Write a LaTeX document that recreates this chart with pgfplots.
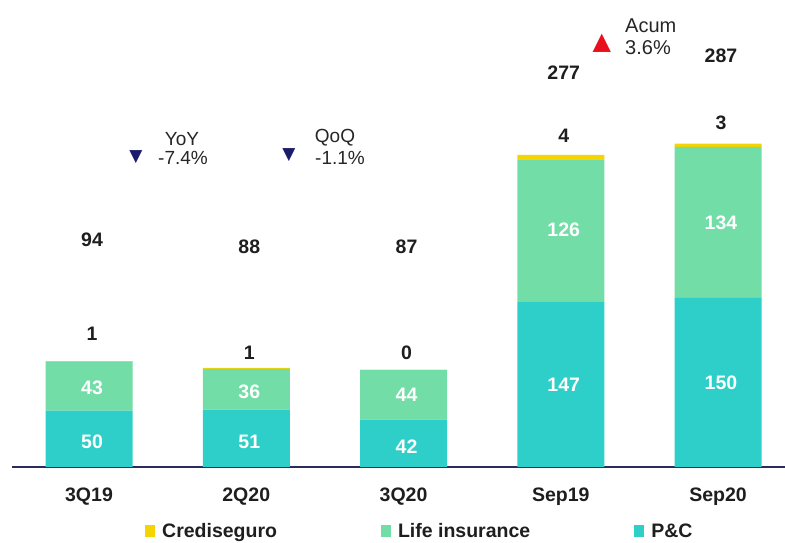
\documentclass[border=0pt]{standalone}
\usepackage{pgfplots}
\pgfplotsset{compat=1.18}
\usepackage{pgfplotstable}
\usepackage{fontspec}
\setmainfont{Liberation Sans}
\newfontfamily\dejavu{DejaVu Sans}
\definecolor{pc}{HTML}{2ECFC8}
\definecolor{life}{HTML}{72DDA6}
\definecolor{cred}{HTML}{F5D400}
\definecolor{axnavy}{HTML}{2B2B5C}
\definecolor{tri}{HTML}{1B1B6B}
\definecolor{redtri}{HTML}{E8101C}
\definecolor{txt}{HTML}{1E1E1E}
\definecolor{ann}{HTML}{262626}
\pgfplotsset{sqlegend/.style={legend image code/.code={\fill[##1] (0pt,-6pt) rectangle (10pt,6pt);}}}
\pgfplotstableread{
x pc life cred
0 50 43 1
1 51 36 1
2 42 44 0.4
3 147 126 4
4 150 134 3
}\mydata
\begin{document}
\begin{tikzpicture}
\path[use as bounding box] (-12pt,-76pt) rectangle (773pt,467pt);
\begin{axis}[
  at={(0pt,0pt)}, anchor=south west,
  scale only axis, width=773pt, height=467pt,
  xmin=-0.4897, xmax=4.426, ymin=0, ymax=414.4,
  clip=false,
  axis x line*=bottom, axis y line=none,
  axis line style={axnavy, line width=1.6pt},
  ybar stacked, bar width=87pt,
  xtick={0,1,2,3,4},
  xticklabels={3Q19,2Q20,3Q20,Sep19,Sep20},
  major tick length=0pt,
  xticklabel style={anchor=center, yshift=-30pt, font=\fontsize{19.5}{21}\selectfont\bfseries, text=txt},
  legend columns=3, reverse legend, sqlegend,
  legend style={draw=none, fill=none, at={(rel axis cs:0,0)}, anchor=west, xshift=133pt, yshift=-64pt,
    font=\fontsize{19.5}{21}\selectfont\bfseries, text=txt,
    /tikz/every odd column/.append style={column sep=5pt},
    /tikz/every even column/.append style={column sep=102pt},
    inner sep=0pt},
]
\addplot[fill=pc, draw=none] table[x=x, y=pc] {\mydata};
\addlegendentry{P\&C}
\addplot[fill=life, draw=none] table[x=x, y=life] {\mydata};
\addlegendentry{Life insurance}
\addplot[fill=cred, draw=none] table[x=x, y=cred] {\mydata};
\addlegendentry{Crediseguro}

\coordinate (wA) at (axis cs:0,22.2);
\coordinate (wB) at (axis cs:0,70.1);
\coordinate (wC) at (axis cs:1,22.0);
\coordinate (wD) at (axis cs:1,66.5);
\coordinate (wE) at (axis cs:2,17.7);
\coordinate (wF) at (axis cs:2,63.9);
\coordinate (wG) at (axis cs:3,72.8);
\coordinate (wH) at (axis cs:3,210.3);
\coordinate (wI) at (axis cs:4,74.5);
\coordinate (wJ) at (axis cs:4,216.5);

\node[text=txt, font=\fontsize{19.5}{21}\selectfont\bfseries, xshift=3pt] at (axis cs:0,118.0) {1};
\node[text=txt, font=\fontsize{19.5}{21}\selectfont\bfseries, xshift=3pt] at (axis cs:1,101.2) {1};
\node[text=txt, font=\fontsize{19.5}{21}\selectfont\bfseries, xshift=3pt] at (axis cs:2,101.2) {0};
\node[text=txt, font=\fontsize{19.5}{21}\selectfont\bfseries, xshift=3pt] at (axis cs:3,293.7) {4};
\node[text=txt, font=\fontsize{19.5}{21}\selectfont\bfseries, xshift=3pt] at (axis cs:4,305.2) {3};
\node[text=txt, font=\fontsize{19.5}{21}\selectfont\bfseries, xshift=3pt] at (axis cs:0,201.4) {94};
\node[text=txt, font=\fontsize{19.5}{21}\selectfont\bfseries, xshift=3pt] at (axis cs:1,195.2) {88};
\node[text=txt, font=\fontsize{19.5}{21}\selectfont\bfseries, xshift=3pt] at (axis cs:2,195.2) {87};
\node[text=txt, font=\fontsize{19.5}{21}\selectfont\bfseries, xshift=3pt] at (axis cs:3,349.6) {277};
\node[text=txt, font=\fontsize{19.5}{21}\selectfont\bfseries, xshift=3pt] at (axis cs:4,364.7) {287};

\node[text=ann, font=\fontsize{19}{21}\selectfont, inner sep=0pt] at (axis cs:0.5914,291.3) {YoY};
\node[text=ann, font=\fontsize{19}{21}\selectfont, inner sep=0pt] at (axis cs:0.5978,274.0) {-7.4\%};
\node[text=ann, font=\fontsize{19}{21}\selectfont, inner sep=0pt] at (axis cs:1.5644,292.0) {QoQ};
\node[text=ann, font=\fontsize{19}{21}\selectfont, inner sep=0pt] at (axis cs:1.5963,274.0) {-1.1\%};
\node[text=ann, font=\fontsize{20}{22}\selectfont, anchor=west, inner sep=0pt] at (axis cs:3.4086,391.8) {Acum};
\node[text=ann, font=\fontsize{20}{22}\selectfont, anchor=west, inner sep=0pt] at (axis cs:3.4086,372.2) {3.6\%};

\node[text=tri, font=\dejavu\fontsize{17}{18}\selectfont, inner sep=0pt] at (axis cs:0.2989,275.1) {▼};
\node[text=tri, font=\dejavu\fontsize{17}{18}\selectfont, inner sep=0pt] at (axis cs:1.2719,276.8) {▼};
\node[text=redtri, font=\dejavu\fontsize{24}{26}\selectfont, inner sep=0pt] at (axis cs:3.262,376.2) {▲};
\end{axis}
\begin{scope}[every node/.style={text=white, font=\fontsize{19.5}{21}\selectfont\bfseries, xshift=3pt}]
\node at (wA) {50};
\node at (wB) {43};
\node at (wC) {51};
\node at (wD) {36};
\node at (wE) {42};
\node at (wF) {44};
\node at (wG) {147};
\node at (wH) {126};
\node at (wI) {150};
\node at (wJ) {134};
\end{scope}
\end{tikzpicture}
\end{document}
